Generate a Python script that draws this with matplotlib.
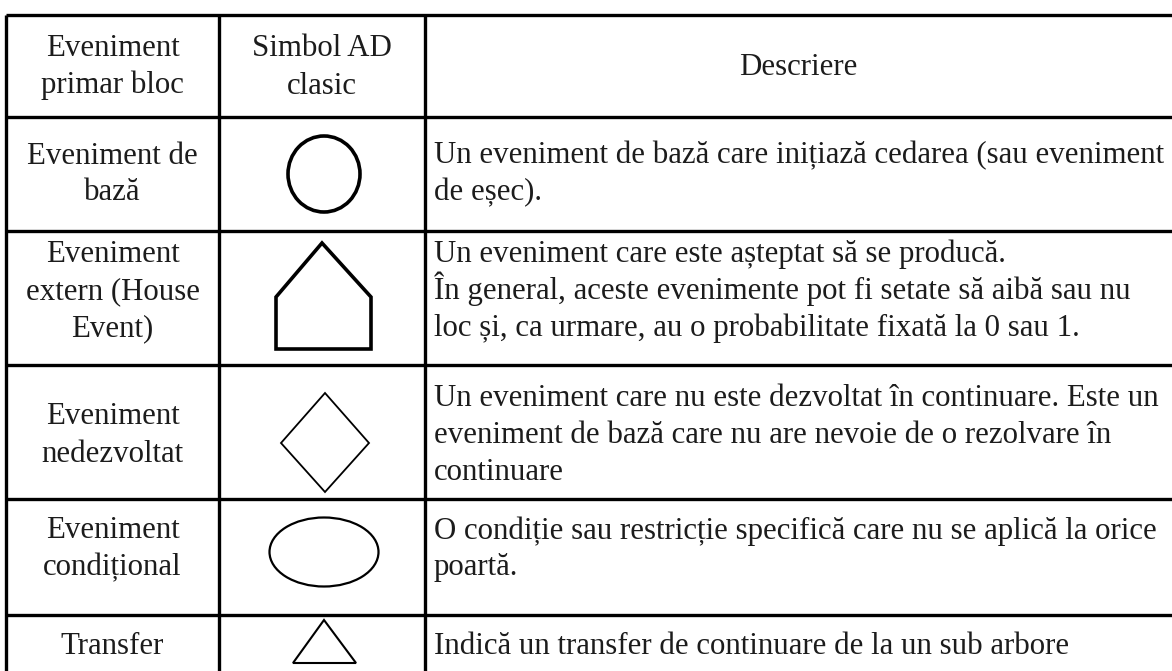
import matplotlib
matplotlib.use("Agg")
import matplotlib.pyplot as plt
from matplotlib.patches import Ellipse, Polygon

# Continutul tabelului
header = ["Eveniment\nprimar bloc", "Simbol AD\nclasic", "Descriere"]
events = [
    "Eveniment de\nbază",
    "Eveniment\nextern (House\nEvent)",
    "Eveniment\nnedezvoltat",
    "Eveniment\ncondițional",
    "Transfer",
]
symbols = ["circle", "house", "diamond", "ellipse", "triangle"]
descriptions = [
    "Un eveniment de bază care inițiază cedarea (sau eveniment\nde eșec).",
    "Un eveniment care este așteptat să se producă.\n"
    "În general, aceste evenimente pot fi setate să aibă sau nu\n"
    "loc și, ca urmare, au o probabilitate fixată la 0 sau 1.",
    "Un eveniment care nu este dezvoltat în continuare. Este un\n"
    "eveniment de bază care nu are nevoie de o rezolvare în\ncontinuare",
    "O condiție sau restricție specifică care nu se aplică la orice\npoartă.",
    "Indică un transfer de continuare de la un sub arbore",
]

# geometrie (pixeli)
col_x = [6, 219, 425, 1172]
row_y = [15, 117, 231, 365, 499, 615]
text_cy = [66, 173, 290, 434, 548, 645]   # centrul textului in fiecare rand
line_h = 37

W, H = 1172, 671
fig = plt.figure(figsize=(W / 100, H / 100), dpi=100)
ax = fig.add_axes([0, 0, 1, 1])
ax.set_xlim(0, W)
ax.set_ylim(H, 0)
ax.axis("off")

font = dict(family="Liberation Serif", fontsize=22.2, color="#1c1c1c")
lw_grid = 2.4


def cell_text(x, cy, txt, ha):
    lines = txt.split("\n")
    n = len(lines)
    for k, ln in enumerate(lines):
        yc = cy + (k - (n - 1) / 2) * line_h
        ax.text(x, yc + 9, ln, ha=ha, va="baseline", **font)


# linii orizontale si verticale
for y in row_y:
    ax.plot([col_x[0], col_x[-1]], [y, y], color="black", lw=lw_grid, solid_capstyle="butt")
for x in col_x[:-1]:
    ax.plot([x, x], [row_y[0], H + 5], color="black", lw=lw_grid, solid_capstyle="butt")

# antet
for i, txt in enumerate(header):
    cx = (col_x[i] + col_x[i + 1]) / 2
    cell_text(cx, text_cy[0], txt, "center")

# randuri
for r, (ev, sym, desc) in enumerate(zip(events, symbols, descriptions)):
    cy = text_cy[r + 1]
    cell_text((col_x[0] + col_x[1]) / 2, cy, ev, "center")
    cell_text(434, cy, desc, "left")

    sx = 324
    if sym == "circle":
        ax.add_patch(Ellipse((sx, 174), 72, 76, fill=False, ec="black", lw=2.6))
    elif sym == "house":
        pts = [(276, 349), (276, 297), (322, 243), (371, 297), (371, 349)]
        ax.add_patch(Polygon(pts, closed=True, fill=False, ec="black", lw=2.6))
    elif sym == "diamond":
        pts = [(325, 393), (369, 443), (325, 492), (281, 443)]
        ax.add_patch(Polygon(pts, closed=True, fill=False, ec="black", lw=1.3))
    elif sym == "ellipse":
        ax.add_patch(Ellipse((sx, 552), 109, 69, fill=False, ec="black", lw=1.6))
    elif sym == "triangle":
        pts = [(324, 620), (356, 663), (293, 663)]
        ax.add_patch(Polygon(pts, closed=True, fill=False, ec="black", lw=1.5))

fig.savefig("out.png", dpi=100, facecolor="white")
